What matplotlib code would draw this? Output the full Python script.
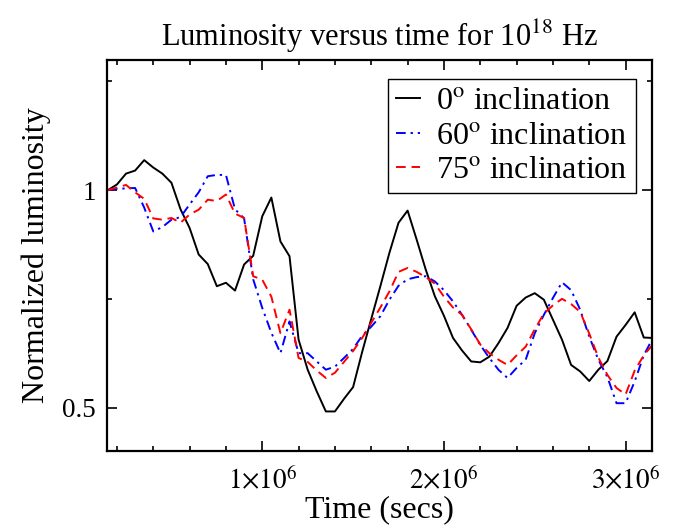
import matplotlib
matplotlib.use("Agg")
import matplotlib.pyplot as plt
from matplotlib.ticker import MultipleLocator, FuncFormatter

plt.rcParams['font.family'] = ['Liberation Serif', 'DejaVu Serif']
plt.rcParams['mathtext.fontset'] = 'stix'

# time in units of 1e6 s
time = [0.15, 0.20, 0.25, 0.30, 0.35, 0.40, 0.45, 0.50, 0.55, 0.60,
        0.65, 0.70, 0.75, 0.80, 0.85, 0.90, 0.95, 1.00, 1.05, 1.10,
        1.15, 1.20, 1.25, 1.30, 1.35, 1.40, 1.45, 1.50, 1.55, 1.60,
        1.65, 1.70, 1.75, 1.80, 1.85, 1.90, 1.95, 2.00, 2.05, 2.10,
        2.15, 2.20, 2.25, 2.30, 2.35, 2.40, 2.45, 2.50, 2.55, 2.60,
        2.65, 2.70, 2.75, 2.80, 2.85, 2.90, 2.95, 3.00, 3.05, 3.10,
        3.15]

lum_0 = [1.000, 1.013, 1.038, 1.045, 1.069, 1.052, 1.038, 1.017, 0.956, 0.913,
         0.852, 0.830, 0.779, 0.787, 0.769, 0.829, 0.849, 0.940, 0.983, 0.882,
         0.848, 0.656, 0.587, 0.537, 0.491, 0.491, 0.520, 0.547, 0.628, 0.704,
         0.779, 0.856, 0.925, 0.953, 0.886, 0.817, 0.756, 0.711, 0.660, 0.631,
         0.606, 0.604, 0.617, 0.648, 0.683, 0.734, 0.753, 0.763, 0.748, 0.702,
         0.656, 0.598, 0.583, 0.561, 0.587, 0.607, 0.663, 0.690, 0.719, 0.661,
         0.660]

lum_60 = [1.000, 1.003, 1.004, 1.005, 0.960, 0.905, 0.915, 0.932, 0.938, 0.967,
          0.995, 1.032, 1.035, 1.035, 0.956, 0.935, 0.795, 0.729, 0.672, 0.625,
          0.698, 0.625, 0.625, 0.606, 0.587, 0.594, 0.614, 0.635, 0.665, 0.686,
          0.710, 0.748, 0.780, 0.795, 0.800, 0.802, 0.790, 0.770, 0.744, 0.713,
          0.679, 0.644, 0.614, 0.587, 0.568, 0.591, 0.610, 0.671, 0.713, 0.752,
          0.788, 0.770, 0.725, 0.663, 0.610, 0.570, 0.510, 0.510, 0.560, 0.620,
          0.660]

lum_75 = [1.000, 1.006, 1.012, 0.995, 0.980, 0.935, 0.932, 0.936, 0.925, 0.944,
          0.955, 0.978, 0.975, 0.990, 0.946, 0.936, 0.802, 0.794, 0.755, 0.671,
          0.725, 0.614, 0.605, 0.585, 0.568, 0.580, 0.605, 0.630, 0.660, 0.695,
          0.730, 0.767, 0.812, 0.821, 0.812, 0.800, 0.785, 0.755, 0.730, 0.713,
          0.680, 0.645, 0.625, 0.610, 0.598, 0.620, 0.640, 0.680, 0.716, 0.735,
          0.750, 0.738, 0.720, 0.670, 0.615, 0.575, 0.545, 0.530, 0.585, 0.620,
          0.645]

labels = [r'0$^{\rm o}$ inclination', r'60$^{\rm o}$ inclination', r'75$^{\rm o}$ inclination']

t = [v * 1e6 for v in time]

fig = plt.figure(figsize=(6.8, 5.27), dpi=100)
ax = fig.add_axes([0.157, 0.1442, 0.802, 0.7425])

ax.plot(t, lum_0, color='black', lw=1.4, label=labels[0])
ax.plot(t, lum_60, color='#0000ff', lw=1.4, linestyle=(0, (5, 2.5, 1.2, 2.5)), label=labels[1])
ax.plot(t, lum_75, color='#ff0000', lw=1.4, linestyle=(0, (5, 3)), label=labels[2])

ax.set_xlim(0.144e6, 3.146e6)
ax.set_ylim(0.4, 1.3)

ax.xaxis.set_major_locator(MultipleLocator(1e6))
ax.xaxis.set_minor_locator(MultipleLocator(0.2e6))
ax.yaxis.set_major_locator(MultipleLocator(0.5))
ax.yaxis.set_minor_locator(MultipleLocator(0.25))
ax.xaxis.set_major_formatter(FuncFormatter(lambda v, p: r'$%d{\times}10^{6}$' % round(v / 1e6)))
ax.yaxis.set_major_formatter(FuncFormatter(lambda v, p: '1' if abs(v - 1) < 1e-9 else '%g' % v))

ax.tick_params(which='both', direction='in', top=True, right=True, labelsize=19.5, width=1.2)
ax.tick_params(axis='x', which='major', length=7, pad=12)
ax.tick_params(axis='y', which='major', length=7, pad=8)
ax.tick_params(which='minor', length=3.5)
for s in ax.spines.values():
    s.set_linewidth(1.6)

ax.set_xlabel('Time (secs)', fontsize=23, labelpad=0)
ax.set_ylabel('Normalized luminosity', fontsize=23, labelpad=8)
ax.set_title(r'Luminosity versus time for 10$^{18}$ Hz', fontsize=22, pad=10)

leg = ax.legend(loc='upper right', bbox_to_anchor=(0.97, 0.951), fontsize=23,
                handlelength=0.75, handletextpad=0.5, labelspacing=0.16,
                borderpad=0.25, borderaxespad=0, fancybox=False, framealpha=1)
leg.get_frame().set_edgecolor('black')
leg.get_frame().set_linewidth(1.0)

fig.savefig('out.png', dpi=100)
